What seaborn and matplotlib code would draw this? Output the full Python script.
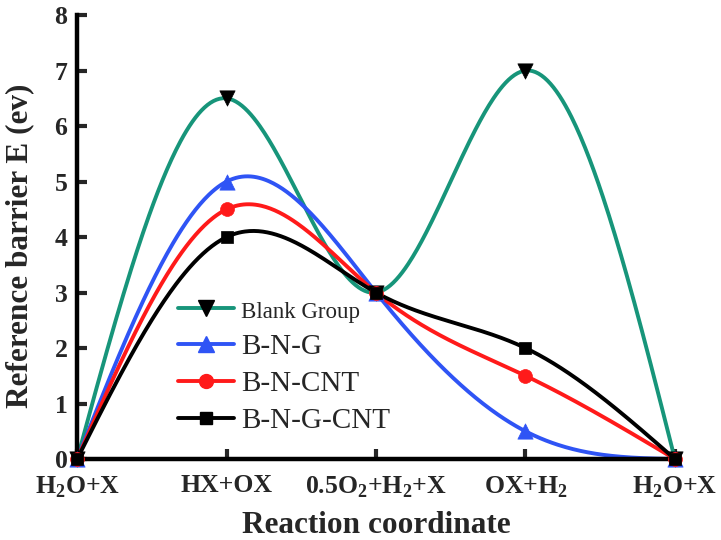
import numpy as np
import pandas as pd
import seaborn as sns
import matplotlib
matplotlib.use("Agg")
import matplotlib.pyplot as plt
from matplotlib.lines import Line2D

# ---- data ----
categories = [r"H$_\mathbf{2}$O+X", "HX+OX", r"0.5O$_\mathbf{2}$+H$_\mathbf{2}$+X",
              r"OX+H$_\mathbf{2}$", r"H$_\mathbf{2}$O+X"]
blank_group = [0, 6.5, 3, 7, 0]
b_n_g = [0, 5, 3, 0.5, 0]
b_n_cnt = [0, 4.5, 3, 1.5, 0]
b_n_g_cnt = [0, 4, 3, 2, 0]
series_names = ["Blank Group", "B-N-G", "B-N-CNT", "B-N-G-CNT"]
series_values = [blank_group, b_n_g, b_n_cnt, b_n_g_cnt]

line_colors = {"Blank Group": "#17957a", "B-N-G": "#2f54f5",
               "B-N-CNT": "#ff1a1a", "B-N-G-CNT": "#000000"}
marker_colors = {"Blank Group": "#000000", "B-N-G": "#2f54f5",
                 "B-N-CNT": "#ff1a1a", "B-N-G-CNT": "#000000"}
markers = {"Blank Group": "v", "B-N-G": "^", "B-N-CNT": "o", "B-N-G-CNT": "s"}
marker_sizes = {"Blank Group": 11, "B-N-G": 11, "B-N-CNT": 10, "B-N-G-CNT": 9}


def natural_spline(xp, yp, n=400):
    xp = np.asarray(xp, float)
    yp = np.asarray(yp, float)
    m = len(xp)
    h = np.diff(xp)
    A = np.zeros((m, m))
    b = np.zeros(m)
    A[0, 0] = 1
    A[-1, -1] = 1
    for i in range(1, m - 1):
        A[i, i - 1] = h[i - 1]
        A[i, i] = 2 * (h[i - 1] + h[i])
        A[i, i + 1] = h[i]
        b[i] = 6 * ((yp[i + 1] - yp[i]) / h[i] - (yp[i] - yp[i - 1]) / h[i - 1])
    M = np.linalg.solve(A, b)
    xs = np.linspace(xp[0], xp[-1], n)
    ys = np.empty_like(xs)
    for k, x in enumerate(xs):
        i = min(np.searchsorted(xp, x, side="right") - 1, m - 2)
        t1 = xp[i + 1] - x
        t0 = x - xp[i]
        ys[k] = (M[i] * t1 ** 3 / (6 * h[i]) + M[i + 1] * t0 ** 3 / (6 * h[i])
                 + (yp[i] / h[i] - M[i] * h[i] / 6) * t1
                 + (yp[i + 1] / h[i] - M[i + 1] * h[i] / 6) * t0)
    return xs, ys


xpos = np.arange(len(categories))
smooth_rows = []
point_rows = []
for name, vals in zip(series_names, series_values):
    xs, ys = natural_spline(xpos, vals)
    smooth_rows.append(pd.DataFrame({"x": xs, "y": ys, "series": name}))
    point_rows.append(pd.DataFrame({"x": xpos, "y": vals, "series": name}))
smooth = pd.concat(smooth_rows, ignore_index=True)
points = pd.concat(point_rows, ignore_index=True)

sns.set_theme(style="white")
plt.rcParams["font.family"] = ["Liberation Serif", "DejaVu Serif"]
plt.rcParams["mathtext.fontset"] = "custom"
plt.rcParams["mathtext.rm"] = "Liberation Serif"
plt.rcParams["mathtext.bf"] = "Liberation Serif:bold"

fig = plt.figure(figsize=(7.21, 5.40), dpi=100)
ax = fig.add_axes([0.107, 0.150, 0.829, 0.822])

for name in series_names:
    sub = smooth[smooth.series == name]
    sns.lineplot(data=sub, x="x", y="y", color=line_colors[name], linewidth=2.8,
                 sort=False, estimator=None, ax=ax, legend=False, zorder=2,
                 clip_on=True)
for name in series_names:
    sub = points[points.series == name]
    sns.scatterplot(data=sub, x="x", y="y", marker=markers[name],
                    color=marker_colors[name], s=marker_sizes[name] ** 2,
                    edgecolor=marker_colors[name], linewidth=0.5, ax=ax,
                    legend=False, zorder=3, clip_on=False)

ax.set_xlim(0, 4)
ax.set_ylim(0, 8)
ax.set_xticks(xpos)
ax.set_xticklabels(categories, fontsize=18.5, fontweight="bold")
ax.set_yticks(range(0, 9))
ax.set_yticklabels([str(v) for v in range(0, 9)], fontsize=18.5, fontweight="bold")
ax.tick_params(axis="both", direction="in", length=7, width=3,
               bottom=True, left=True)
ax.tick_params(axis="x", pad=11)
ax.tick_params(axis="y", pad=7)
for s in ["top", "right"]:
    ax.spines[s].set_visible(False)
for s in ["left", "bottom"]:
    ax.spines[s].set_linewidth(3.2)
    ax.spines[s].set_color("black")

ax.set_xlabel("Reaction coordinate", fontsize=22.5, fontweight="bold", labelpad=8)
ax.set_ylabel("Reference barrier E (ev)", fontsize=22.5, fontweight="bold")
ax.yaxis.set_label_coords(-0.071, 0.48)

handles = [Line2D([], [], color=line_colors[n], linewidth=2.8, marker=markers[n],
                  markersize=marker_sizes[n], markerfacecolor=marker_colors[n],
                  markeredgecolor=marker_colors[n]) for n in series_names]
leg = ax.legend(handles, series_names, loc="upper left",
                bbox_to_anchor=(0.150, 0.39), frameon=False, fontsize=21,
                handlelength=1.9, handletextpad=0.25, labelspacing=0.36,
                borderaxespad=0)
leg.get_texts()[0].set_fontsize(16.5)

fig.savefig("out.png", dpi=100)
